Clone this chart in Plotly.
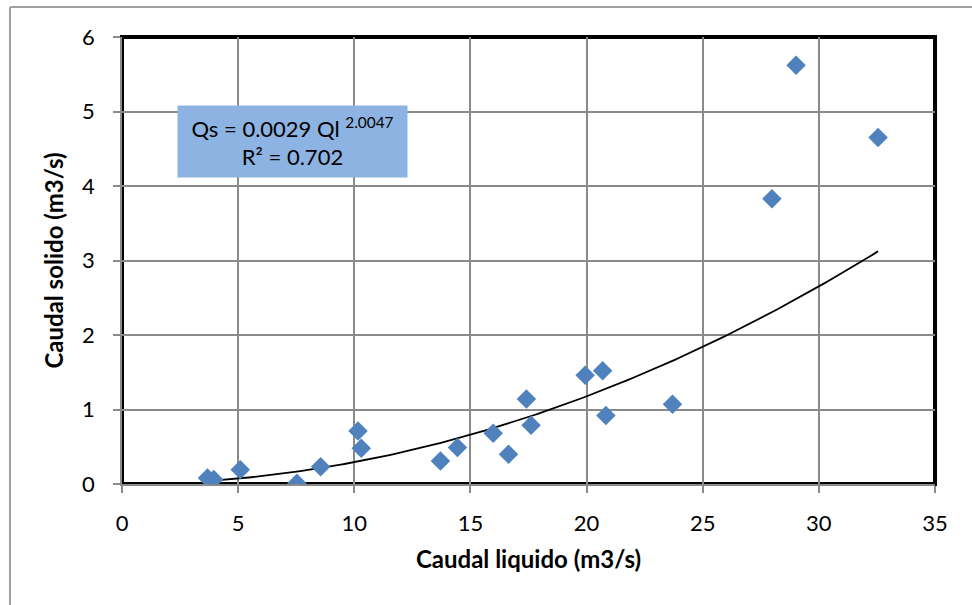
import numpy as np
import plotly.graph_objects as go

# Data
caudal_liquido = [3.68, 3.95, 5.09, 7.53, 8.55, 10.16, 10.30, 13.71, 14.44, 15.98,
                  16.64, 17.41, 17.61, 19.94, 20.69, 20.83, 23.70, 27.98, 29.02, 32.55]
caudal_solido = [0.08, 0.06, 0.19, 0.01, 0.23, 0.71, 0.48, 0.31, 0.49, 0.68,
                 0.40, 1.14, 0.79, 1.46, 1.52, 0.92, 1.07, 3.83, 5.62, 4.65]

# Power trend line coefficients shown on the chart
coef_a = 0.0029
coef_b = 2.0047
r2 = 0.702

x_ticks = [0, 5, 10, 15, 20, 25, 30, 35]
y_ticks = [0, 1, 2, 3, 4, 5, 6]

FONT = "Lato"

xt = np.linspace(min(caudal_liquido), max(caudal_liquido), 200)
yt = coef_a * xt ** coef_b

fig = go.Figure()
fig.add_trace(go.Scatter(x=xt, y=yt, mode="lines",
                         line=dict(color="black", width=1.8),
                         hoverinfo="skip", showlegend=False))
fig.add_trace(go.Scatter(x=caudal_liquido, y=caudal_solido, mode="markers",
                         marker=dict(symbol="diamond", size=15, color="#4F81BD",
                                     line=dict(width=0)),
                         showlegend=False))

L, R, T, B = 122, 37, 37, 121
W, H = 972, 605
pw = W - L - R
ph = H - T - B

def px(xpix):
    return (xpix - L) / pw

def py(ypix):
    return 1 - (ypix - T) / ph

axis_common = dict(showgrid=True, gridcolor="#8a8a8a", gridwidth=1.5,
                   zeroline=False, showline=True, linecolor="#8a8a8a", linewidth=1.5,
                   ticks="outside", ticklen=7, tickcolor="#8a8a8a", tickwidth=1.5,
                   tickfont=dict(family=FONT, size=22, color="black"))

fig.update_layout(
    width=W, height=H,
    margin=dict(l=L, r=R, t=T, b=B),
    paper_bgcolor="white", plot_bgcolor="white",
    xaxis=dict(range=[0, 35], tickvals=x_ticks, ticklabelstandoff=12,
               title=dict(text="<b>Caudal liquido (m3/s)</b>",
                          font=dict(family=FONT, size=24, color="black"), standoff=16),
               **axis_common),
    yaxis=dict(range=[0, 6], tickvals=y_ticks, ticklabelstandoff=14,
               title=dict(text="<b>Caudal solido (m3/s)</b>",
                          font=dict(family=FONT, size=24, color="black"), standoff=12),
               **axis_common),
    shapes=[
        dict(type="rect", xref="paper", yref="paper", x0=0, x1=1, y0=0, y1=1,
             line=dict(color="black", width=4), layer="between"),
        dict(type="line", xref="paper", yref="paper", x0=px(10), x1=px(10),
             y0=py(7), y1=py(620), line=dict(color="#a0a0a0", width=2)),
        dict(type="line", xref="paper", yref="paper", x0=px(10), x1=px(990),
             y0=py(7), y1=py(7), line=dict(color="#a0a0a0", width=2)),
    ],
    annotations=[
        dict(xref="paper", yref="paper", x=px(177), y=py(105),
             xanchor="left", yanchor="top",
             text=f"Qs = {coef_a} Ql <sup>{coef_b}</sup><br>R² = {r2}",
             showarrow=False, align="center",
             bgcolor="#8DB3E2", width=225, height=67, borderpad=2,
             font=dict(family=FONT, size=22, color="black")),
    ],
)

fig.write_html("out.html")
